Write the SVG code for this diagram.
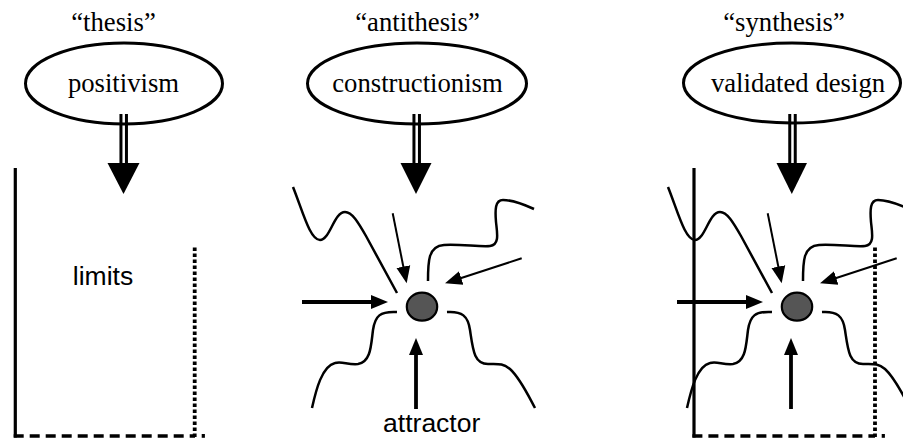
<svg xmlns="http://www.w3.org/2000/svg" width="903" height="446" viewBox="0 0 903 446">
  <defs>
    <style>
      .serif { font-family: "Liberation Serif", "Times New Roman", serif; font-size: 26.7px; fill: #000; text-anchor: middle; }
      .sans { font-family: "Liberation Sans", Arial, sans-serif; font-size: 26.5px; fill: #000; text-anchor: middle; }
      .oval { fill: none; stroke: #000; stroke-width: 3; }
      .shaft { stroke: #000; stroke-width: 8.5; }
      .shaft-gap { stroke: #fff; stroke-width: 2.5; }
      .head { fill: #000; }
      .wave { fill: none; stroke: #000; stroke-width: 2.5; stroke-linecap: butt; }
      .thin { fill: none; stroke: #000; stroke-width: 2; marker-end: url(#ah); }
      .thick { fill: none; stroke: #000; stroke-width: 3.8; marker-end: url(#ah); }
      .solid { stroke: #000; stroke-width: 3.2; fill: none; }
      .dashed { stroke: #000; stroke-width: 3.5; stroke-dasharray: 10 6; fill: none; }
      .dotted { stroke: #000; stroke-width: 3.8; stroke-dasharray: 3.5 2.5; fill: none; }
      .core { fill: #555; stroke: #000; stroke-width: 2.2; }
    </style>
    <marker id="ah" markerUnits="userSpaceOnUse" markerWidth="18" markerHeight="16" refX="8" refY="7" orient="auto" viewBox="0 0 18 14">
      <path d="M0,0 L17,7 L0,14 Z" fill="#000"/>
    </marker>
    <g id="attr-figure">
      <path class="wave" d="M293,187 C303,212 310,240 320,240 C330,240 334,212 345,212 C352,212 358,222 366,236 L397,293"/>
      <path class="wave" d="M428,281 C428,262 428,246 444,245 C460,244 480,247 490,246 C500,245 497,232 496,222 C495,210 495,200 503,200 C512,200 523,204 534,209"/>
      <path class="wave" d="M397,312 C380,311 375,316 373,330 C371,345 371,362 358,364 C348,365 342,361 335,363 C322,366 316,390 312,408"/>
      <path class="wave" d="M447,312 C462,311 468,316 470,330 C473,350 474,364 488,364 C498,364 503,363 510,369 C520,378 528,395 535,408"/>
      <line class="thin" x1="392.7" y1="213.3" x2="404.9" y2="274.5"/>
      <line class="thin" x1="521.7" y1="258.3" x2="453.6" y2="280.5"/>
      <line class="thick" x1="302" y1="302" x2="379" y2="302"/>
      <line class="thick" x1="416" y1="409" x2="416" y2="347"/>
      <ellipse class="core" cx="422" cy="306.7" rx="15.2" ry="14"/>
    </g>
  </defs>

  <!-- connectors: double-line arrows from each concept -->
  <g id="connectors">
    <g id="arrow-thesis">
      <line class="shaft" x1="123.7" y1="114" x2="123.7" y2="164"/>
      <line class="shaft-gap" x1="123.7" y1="114" x2="123.7" y2="163"/>
      <polygon class="head" points="107.5,163 139.5,163 123.5,194"/>
    </g>
    <g id="arrow-antithesis">
      <line class="shaft" x1="416.7" y1="114" x2="416.7" y2="164"/>
      <line class="shaft-gap" x1="416.7" y1="114" x2="416.7" y2="163"/>
      <polygon class="head" points="400.5,163 431.5,163 416,194"/>
    </g>
    <g id="arrow-synthesis">
      <line class="shaft" x1="792.5" y1="114" x2="792.5" y2="164"/>
      <line class="shaft-gap" x1="792.5" y1="114" x2="792.5" y2="163"/>
      <polygon class="head" points="776.5,163 807,163 791.8,194"/>
    </g>
  </g>

  <!-- concept nodes -->
  <g id="thesis">
    <text class="serif" x="113.5" y="30.5">“thesis”</text>
    <ellipse class="oval" cx="124" cy="83.5" rx="98.5" ry="40.5"/>
    <text class="serif" x="123.5" y="92">positivism</text>
  </g>
  <g id="antithesis">
    <text class="serif" x="417.5" y="30.5">“antithesis”</text>
    <ellipse class="oval" cx="417" cy="83.5" rx="109.5" ry="40.5"/>
    <text class="serif" x="417.5" y="92">constructionism</text>
  </g>
  <g id="synthesis">
    <text class="serif" x="784" y="30.5">“synthesis”</text>
    <ellipse class="oval" cx="792" cy="83" rx="108.5" ry="40"/>
    <text class="serif" x="798" y="92">validated design</text>
  </g>

  <!-- left panel: limits -->
  <g id="limits">
    <line class="solid" x1="15.3" y1="168" x2="15.3" y2="437.5"/>
    <line class="dashed" x1="13.7" y1="436" x2="195" y2="436"/>
    <line class="dotted" x1="194.7" y1="247.5" x2="194.7" y2="437.5"/>
    <rect x="201.7" y="434" width="3.2" height="3.8" fill="#000"/>
    <text class="sans" x="103" y="285">limits</text>
  </g>

  <!-- middle panel: attractor -->
  <g id="attractor">
    <use href="#attr-figure"/>
    <text class="sans" x="431.7" y="432">attractor</text>
  </g>

  <!-- right panel: limits + attractor -->
  <g id="validated">
    <use href="#attr-figure" transform="translate(375,0)"/>
    <line class="solid" x1="694" y1="168" x2="694" y2="437.5"/>
    <line class="dashed" x1="692.4" y1="436" x2="875" y2="436"/>
    <line class="dotted" x1="875" y1="247.5" x2="875" y2="437.5"/>
    <rect x="881.7" y="434" width="3.2" height="3.8" fill="#000"/>
  </g>
</svg>
